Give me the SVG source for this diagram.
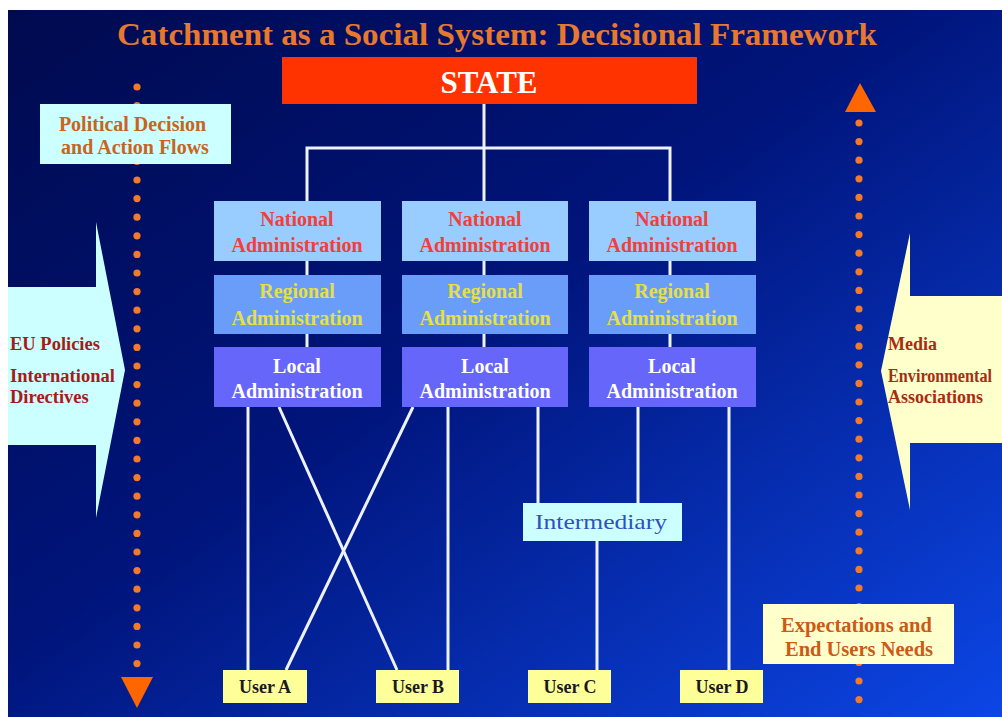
<svg xmlns="http://www.w3.org/2000/svg" width="1002" height="717" viewBox="0 0 1002 717">
  <defs>
    <linearGradient id="bg" x1="0" y1="0" x2="1" y2="1">
      <stop offset="0" stop-color="#000a4e"/>
      <stop offset="0.45" stop-color="#00147a"/>
      <stop offset="1" stop-color="#0c46e6"/>
    </linearGradient>
    <style>
      .serif { font-family: "Liberation Serif", "Times New Roman", serif; font-weight: bold; }
      .wire { stroke: #eef2ff; stroke-width: 3; fill: none; }
      .dot { fill: #f27a2a; }
      .nat { fill: #99ccff; }
      .reg { fill: #6a9cfa; }
      .loc { fill: #6666fa; }
      .natT { fill: #f0403a; font-size: 20px; }
      .regT { fill: #e6e040; font-size: 20px; }
      .locT { fill: #ffffff; font-size: 20px; }
      .user { fill: #ffff99; }
      .userT { fill: #1a1a1a; font-size: 18px; }
    </style>
  </defs>

  <!-- page margin and backdrop -->
  <rect x="0" y="0" width="1002" height="717" fill="#ffffff"/>
  <rect x="8" y="10" width="994" height="707" fill="url(#bg)"/>

  <!-- title -->
  <text class="serif" x="497" y="45" font-size="32" fill="#e8782e" text-anchor="middle" textLength="760" lengthAdjust="spacingAndGlyphs">Catchment as a Social System: Decisional Framework</text>

  <!-- side influence arrows -->
  <g id="eu-arrow">
    <polygon points="8,287 96,287 96,222 125,370 96,518 96,445 8,445" fill="#ccffff"/>
    <text class="serif" font-size="18.5" fill="#a81a1a">
      <tspan x="10" y="350">EU Policies</tspan>
      <tspan x="10" y="382">International</tspan>
      <tspan x="10" y="403">Directives</tspan>
    </text>
  </g>
  <g id="media-arrow">
    <polygon points="1002,296 910,296 910,233 881,371 910,510 910,443 1002,443" fill="#ffffcc"/>
    <text class="serif" font-size="18" fill="#a82c12">
      <tspan x="888" y="350">Media</tspan>
      <tspan x="888" y="382" textLength="104" lengthAdjust="spacingAndGlyphs">Environmental</tspan>
      <tspan x="888" y="403">Associations</tspan>
    </text>
  </g>

  <!-- dotted flow axes -->
  <g id="flow-down">
    <g class="dot">
      <circle cx="137" cy="87" r="3.6"/><circle cx="137" cy="105.6" r="3.6"/><circle cx="137" cy="124.2" r="3.6"/><circle cx="137" cy="142.8" r="3.6"/>
      <circle cx="137" cy="161.4" r="3.6"/><circle cx="137" cy="180" r="3.6"/><circle cx="137" cy="198.6" r="3.6"/><circle cx="137" cy="217.2" r="3.6"/>
      <circle cx="137" cy="235.8" r="3.6"/><circle cx="137" cy="254.4" r="3.6"/><circle cx="137" cy="273" r="3.6"/><circle cx="137" cy="291.6" r="3.6"/>
      <circle cx="137" cy="310.2" r="3.6"/><circle cx="137" cy="328.8" r="3.6"/><circle cx="137" cy="347.4" r="3.6"/><circle cx="137" cy="366" r="3.6"/>
      <circle cx="137" cy="384.6" r="3.6"/><circle cx="137" cy="403.2" r="3.6"/><circle cx="137" cy="421.8" r="3.6"/><circle cx="137" cy="440.4" r="3.6"/>
      <circle cx="137" cy="459" r="3.6"/><circle cx="137" cy="477.6" r="3.6"/><circle cx="137" cy="496.2" r="3.6"/><circle cx="137" cy="514.8" r="3.6"/>
      <circle cx="137" cy="533.4" r="3.6"/><circle cx="137" cy="552" r="3.6"/><circle cx="137" cy="570.6" r="3.6"/><circle cx="137" cy="589.2" r="3.6"/>
      <circle cx="137" cy="607.8" r="3.6"/><circle cx="137" cy="626.4" r="3.6"/><circle cx="137" cy="645" r="3.6"/><circle cx="137" cy="663.6" r="3.6"/>
    </g>
    <polygon points="121,677 153,677 137,708" fill="#ff6600"/>
  </g>
  <g id="flow-up">
    <g class="dot">
      <circle cx="859" cy="123" r="3.6"/><circle cx="859" cy="141.6" r="3.6"/><circle cx="859" cy="160.2" r="3.6"/><circle cx="859" cy="178.8" r="3.6"/>
      <circle cx="859" cy="197.4" r="3.6"/><circle cx="859" cy="216" r="3.6"/><circle cx="859" cy="234.6" r="3.6"/><circle cx="859" cy="253.2" r="3.6"/>
      <circle cx="859" cy="271.8" r="3.6"/><circle cx="859" cy="290.4" r="3.6"/><circle cx="859" cy="309" r="3.6"/><circle cx="859" cy="327.6" r="3.6"/>
      <circle cx="859" cy="346.2" r="3.6"/><circle cx="859" cy="364.8" r="3.6"/><circle cx="859" cy="383.4" r="3.6"/><circle cx="859" cy="402" r="3.6"/>
      <circle cx="859" cy="420.6" r="3.6"/><circle cx="859" cy="439.2" r="3.6"/><circle cx="859" cy="457.8" r="3.6"/><circle cx="859" cy="476.4" r="3.6"/>
      <circle cx="859" cy="495" r="3.6"/><circle cx="859" cy="513.6" r="3.6"/><circle cx="859" cy="532.2" r="3.6"/><circle cx="859" cy="550.8" r="3.6"/>
      <circle cx="859" cy="569.4" r="3.6"/><circle cx="859" cy="588" r="3.6"/><circle cx="859" cy="606.6" r="3.6"/><circle cx="859" cy="625.2" r="3.6"/>
      <circle cx="859" cy="643.8" r="3.6"/><circle cx="859" cy="662.4" r="3.6"/><circle cx="859" cy="681" r="3.6"/><circle cx="859" cy="699.6" r="3.6"/>
    </g>
    <polygon points="845,112 876,112 860,83" fill="#ff6600"/>
  </g>

  <!-- connectors -->
  <g id="connectors" class="wire">
    <line x1="484" y1="104" x2="484" y2="148"/>
    <polyline points="307,201 307,148 670,148 670,201"/>
    <line x1="484" y1="148" x2="484" y2="201"/>
    <line x1="307" y1="261" x2="307" y2="347"/>
    <line x1="484" y1="261" x2="484" y2="347"/>
    <line x1="670" y1="261" x2="670" y2="347"/>
    <line x1="248" y1="407" x2="248" y2="670"/>
    <line x1="279" y1="407" x2="397" y2="670"/>
    <line x1="413" y1="407" x2="286" y2="670"/>
    <line x1="448" y1="407" x2="448" y2="670"/>
    <line x1="538" y1="407" x2="538" y2="503"/>
    <line x1="638" y1="407" x2="638" y2="503"/>
    <line x1="597" y1="541" x2="597" y2="670"/>
    <line x1="729" y1="407" x2="729" y2="670"/>
  </g>

  <!-- top of the hierarchy -->
  <g id="state">
    <rect x="282" y="57" width="415" height="47" fill="#ff3300"/>
    <text class="serif" x="489" y="93" font-size="31" fill="#ffffff" text-anchor="middle">STATE</text>
  </g>

  <!-- administration columns -->
  <g id="national-1"><rect class="nat" x="214" y="201" width="167" height="60"/>
    <text class="serif natT" text-anchor="middle"><tspan x="297" y="226">National</tspan><tspan x="297" y="252">Administration</tspan></text></g>
  <g id="national-2"><rect class="nat" x="402" y="201" width="166" height="60"/>
    <text class="serif natT" text-anchor="middle"><tspan x="485" y="226">National</tspan><tspan x="485" y="252">Administration</tspan></text></g>
  <g id="national-3"><rect class="nat" x="589" y="201" width="167" height="60"/>
    <text class="serif natT" text-anchor="middle"><tspan x="672" y="226">National</tspan><tspan x="672" y="252">Administration</tspan></text></g>

  <g id="regional-1"><rect class="reg" x="214" y="275" width="167" height="59"/>
    <text class="serif regT" text-anchor="middle"><tspan x="297" y="298">Regional</tspan><tspan x="297" y="325">Administration</tspan></text></g>
  <g id="regional-2"><rect class="reg" x="402" y="275" width="166" height="59"/>
    <text class="serif regT" text-anchor="middle"><tspan x="485" y="298">Regional</tspan><tspan x="485" y="325">Administration</tspan></text></g>
  <g id="regional-3"><rect class="reg" x="589" y="275" width="167" height="59"/>
    <text class="serif regT" text-anchor="middle"><tspan x="672" y="298">Regional</tspan><tspan x="672" y="325">Administration</tspan></text></g>

  <g id="local-1"><rect class="loc" x="214" y="347" width="167" height="60"/>
    <text class="serif locT" text-anchor="middle"><tspan x="297" y="373">Local</tspan><tspan x="297" y="398">Administration</tspan></text></g>
  <g id="local-2"><rect class="loc" x="402" y="347" width="166" height="60"/>
    <text class="serif locT" text-anchor="middle"><tspan x="485" y="373">Local</tspan><tspan x="485" y="398">Administration</tspan></text></g>
  <g id="local-3"><rect class="loc" x="589" y="347" width="167" height="60"/>
    <text class="serif locT" text-anchor="middle"><tspan x="672" y="373">Local</tspan><tspan x="672" y="398">Administration</tspan></text></g>

  <g id="intermediary">
    <rect x="523" y="503" width="159" height="38" fill="#ccffff"/>
    <text x="601" y="529" font-family="Liberation Serif, Times New Roman, serif" font-size="22" fill="#3050c0" text-anchor="middle" textLength="132" lengthAdjust="spacingAndGlyphs">Intermediary</text>
  </g>

  <!-- end users -->
  <g id="user-a"><rect class="user" x="223" y="670" width="84" height="33"/>
    <text class="serif userT" x="265" y="693" text-anchor="middle">User A</text></g>
  <g id="user-b"><rect class="user" x="376" y="670" width="83" height="33"/>
    <text class="serif userT" x="418" y="693" text-anchor="middle">User B</text></g>
  <g id="user-c"><rect class="user" x="528" y="670" width="83" height="33"/>
    <text class="serif userT" x="570" y="693" text-anchor="middle">User C</text></g>
  <g id="user-d"><rect class="user" x="680" y="670" width="83" height="33"/>
    <text class="serif userT" x="722" y="693" text-anchor="middle">User D</text></g>

  <!-- flow labels -->
  <g id="political-flows">
    <rect x="40" y="104" width="191" height="60" fill="#ccffff"/>
    <text class="serif" font-size="20" fill="#c8641e" text-anchor="middle">
      <tspan x="135" y="131">Political Decision</tspan>
      <tspan x="135" y="154">and Action Flows</tspan>
    </text>
  </g>
  <g id="user-needs">
    <rect x="763" y="604" width="191" height="60" fill="#ffffcc"/>
    <text class="serif" font-size="20.5" fill="#cc5a14" text-anchor="middle">
      <tspan x="859" y="632">Expectations and</tspan>
      <tspan x="859" y="656">End Users Needs</tspan>
    </text>
  </g>
</svg>
